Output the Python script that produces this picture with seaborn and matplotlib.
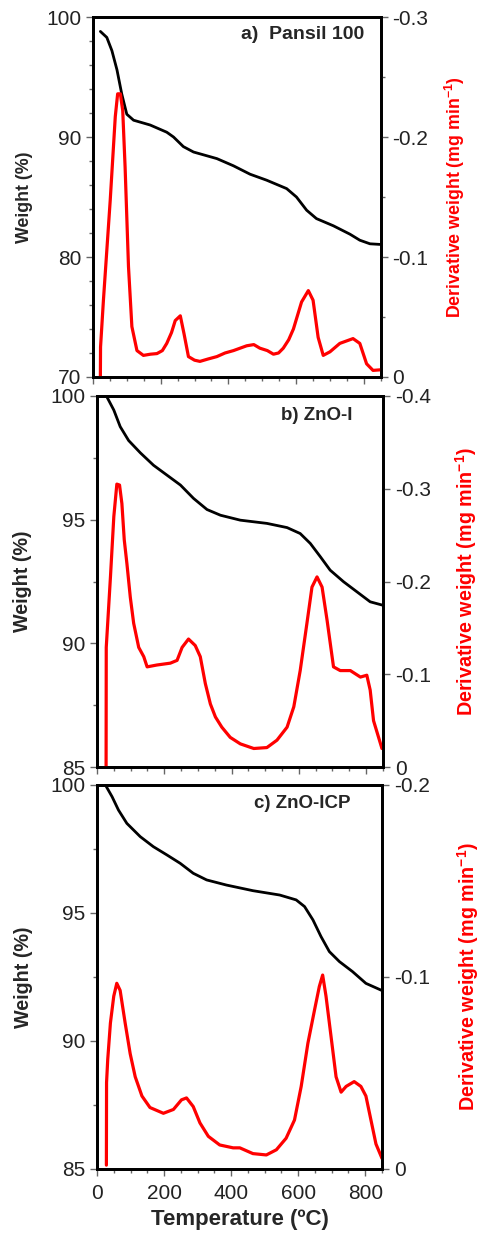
import numpy as np
import pandas as pd
import matplotlib
matplotlib.use("Agg")
import matplotlib.pyplot as plt
from matplotlib.ticker import MultipleLocator
import seaborn as sns

# ==== 数据 ====
# a) Pansil 100
a_w_temp = [22, 41, 56, 71, 85, 100, 120, 169, 218, 238, 267, 297, 366, 415, 464, 513, 572, 601,
            631, 660, 710, 759, 788, 818, 847]
a_w_val = [98.8, 98.3, 97.2, 95.6, 93.6, 91.9, 91.4, 91.0, 90.4, 90.0, 89.2, 88.75, 88.2, 87.6,
           86.9, 86.4, 85.7, 85.0, 83.9, 83.2, 82.6, 81.9, 81.4, 81.1, 81.05]
a_d_temp = [22, 22.5, 31, 51, 66, 73, 81, 88, 95, 105, 115, 130, 149, 170, 189, 205, 218, 232,
            243, 258, 269, 282, 300, 316, 340, 366, 390, 415, 454, 475, 493, 515, 533, 548,
            562, 578, 592, 616, 636, 650, 665, 680, 700, 729, 768, 788, 808, 827, 850]
a_d_val = [0, -0.025, -0.064, -0.147, -0.217, -0.236, -0.236, -0.222, -0.175, -0.092, -0.042,
           -0.022, -0.018, -0.019, -0.0195, -0.022, -0.028, -0.037, -0.047, -0.051, -0.036,
           -0.017, -0.014, -0.013, -0.015, -0.017, -0.020, -0.022, -0.026, -0.027, -0.024,
           -0.022, -0.019, -0.020, -0.024, -0.031, -0.040, -0.0625, -0.072, -0.064, -0.033,
           -0.018, -0.021, -0.028, -0.032, -0.028, -0.011, -0.0055, -0.006]

# b) ZnO-I
b_w_temp = [28, 50, 69, 94, 129, 168, 208, 248, 287, 327, 367, 426, 505, 565, 604, 634, 664,
            693, 733, 773, 812, 850]
b_w_val = [100.0, 99.43, 98.76, 98.2, 97.7, 97.2, 96.8, 96.4, 95.86, 95.41, 95.18, 94.98, 94.85,
           94.68, 94.44, 94.04, 93.5, 92.96, 92.49, 92.08, 91.68, 91.54]
b_d_temp = [27, 27.5, 40, 50, 59, 67, 74, 81, 89, 99, 109, 124, 139, 149, 178, 218, 238, 253,
            272, 292, 307, 322, 337, 352, 371, 396, 426, 466, 505, 535, 565, 585, 604, 624, 639,
            654, 669, 684, 703, 723, 753, 783, 802, 812, 822, 837, 847]
b_d_val = [0, -0.129, -0.205, -0.27, -0.305, -0.304, -0.284, -0.245, -0.219, -0.183, -0.155,
           -0.129, -0.119, -0.108, -0.110, -0.112, -0.115, -0.129, -0.138, -0.131, -0.119,
           -0.090, -0.068, -0.054, -0.043, -0.032, -0.025, -0.020, -0.021, -0.029, -0.043,
           -0.065, -0.104, -0.155, -0.194, -0.205, -0.194, -0.158, -0.108, -0.104, -0.104,
           -0.097, -0.099, -0.083, -0.050, -0.032, -0.020]

# c) ZnO-ICP
c_w_temp = [25, 45, 64, 89, 129, 168, 208, 248, 287, 327, 386, 465, 545, 594, 619, 644, 668,
            693, 723, 762, 802, 850]
c_w_val = [100.0, 99.54, 99.02, 98.5, 97.98, 97.59, 97.27, 96.94, 96.55, 96.29, 96.09, 95.87,
           95.7, 95.51, 95.25, 94.73, 94.08, 93.49, 93.1, 92.71, 92.25, 91.97]
c_d_temp = [28, 28.5, 32, 40, 50, 59, 69, 84, 99, 114, 134, 158, 198, 228, 252, 267, 287, 307,
            332, 366, 406, 426, 465, 505, 535, 564, 589, 609, 629, 649, 663, 673, 683, 698, 713,
            728, 743, 767, 787, 802, 817, 832, 850]
c_d_val = [-0.002, -0.045, -0.057, -0.076, -0.090, -0.0967, -0.093, -0.076, -0.060, -0.048,
           -0.038, -0.032, -0.029, -0.031, -0.036, -0.037, -0.0325, -0.024, -0.017, -0.0125,
           -0.011, -0.011, -0.008, -0.0073, -0.010, -0.016, -0.0255, -0.043, -0.0655, -0.083,
           -0.095, -0.101, -0.090, -0.069, -0.048, -0.040, -0.043, -0.0455, -0.043, -0.038,
           -0.0255, -0.013, -0.0055]

sns.set_style("ticks")
plt.rcParams['font.family'] = ['Liberation Sans', 'DejaVu Sans']
plt.rcParams['mathtext.fontset'] = 'custom'
plt.rcParams['mathtext.rm'] = 'Liberation Sans'
plt.rcParams['mathtext.bf'] = 'Liberation Sans:bold'

fig = plt.figure(figsize=(4.79, 12.34), dpi=100)

panels = [
    dict(rect=[0.194, 0.6945, 0.601, 0.2917], wt=a_w_temp, wv=a_w_val, dt=a_d_temp, dv=a_d_val,
         wlim=(70, 100), wmaj=10, wmin=2, dlim=(0, -0.3), dmin=0.05, label="a)  Pansil 100",
         lab_x=0.944, lab_y=0.975, lab_fs=14, fs=12.8, lx=-0.208, rx=1.215),
    dict(rect=[0.2025, 0.3784, 0.597, 0.3007], wt=b_w_temp, wv=b_w_val, dt=b_d_temp, dv=b_d_val,
         wlim=(85, 100), wmaj=5, wmin=2.5, dlim=(0, -0.4), dmin=None, label="b) ZnO-I",
         lab_x=0.895, lab_y=0.97, lab_fs=13.5, fs=14.2, lx=-0.227, rx=1.245),
    dict(rect=[0.2025, 0.0527, 0.595, 0.3112], wt=c_w_temp, wv=c_w_val, dt=c_d_temp, dv=c_d_val,
         wlim=(85, 100), wmaj=5, wmin=2.5, dlim=(0, -0.2), dmin=None, label="c) ZnO-ICP",
         lab_x=0.888, lab_y=0.975, lab_fs=13.5, fs=14.2, lx=-0.225, rx=1.256),
]

for i, p in enumerate(panels):
    ax = fig.add_axes(p["rect"])
    ax2 = ax.twinx()
    w_df = pd.DataFrame({"T": p["wt"], "W": p["wv"]})
    d_df = pd.DataFrame({"T": p["dt"], "D": p["dv"]})
    sns.lineplot(data=w_df, x="T", y="W", ax=ax, color="black", lw=2, estimator=None, sort=False)
    sns.lineplot(data=d_df, x="T", y="D", ax=ax2, color="red", lw=2.3, estimator=None, sort=False)

    ax.set_xlim(0, 850)
    ax.set_ylim(*p["wlim"])
    ax2.set_ylim(*p["dlim"])
    ax.yaxis.set_major_locator(MultipleLocator(p["wmaj"]))
    ax.yaxis.set_minor_locator(MultipleLocator(p["wmin"]))
    ax2.yaxis.set_major_locator(MultipleLocator(0.1))
    if p["dmin"]:
        ax2.yaxis.set_minor_locator(MultipleLocator(p["dmin"]))
    ax.xaxis.set_major_locator(MultipleLocator(200))
    ax.xaxis.set_minor_locator(MultipleLocator(50))
    ax2.yaxis.set_major_formatter(plt.FuncFormatter(lambda v, _: "0" if abs(v) < 1e-9 else f"{v:.1f}"))

    for a in (ax, ax2):
        for s in a.spines.values():
            s.set_linewidth(2)
            s.set_color("black")
        a.tick_params(which="both", direction="out", labelsize=15, width=1, color="#666666",
                      labelcolor="#222222")
        a.tick_params(which="major", length=5)
        a.tick_params(which="minor", length=3)
    ax.tick_params(axis="x", pad=6)

    ax.set_ylabel("Weight (%)", fontsize=p["fs"], fontweight="bold")
    ax2.set_ylabel(r"Derivative weight (mg min$^{\mathbf{-1}}$)", fontsize=p["fs"],
                   fontweight="bold", color="red")
    ax.yaxis.set_label_coords(p["lx"], 0.5)
    ax2.yaxis.set_label_coords(p["rx"], 0.5)
    ax.text(p["lab_x"], p["lab_y"], p["label"], transform=ax.transAxes, ha="right", va="top",
            fontsize=p["lab_fs"], fontweight="bold")

    if i < 2:
        ax.set_xlabel("")
        ax.tick_params(axis="x", labelbottom=False)
    else:
        ax.set_xlabel("Temperature (ºC)", fontsize=16, fontweight="bold", labelpad=4)
    ax2.set_xlabel("")

fig.savefig("out.png", dpi=100)
